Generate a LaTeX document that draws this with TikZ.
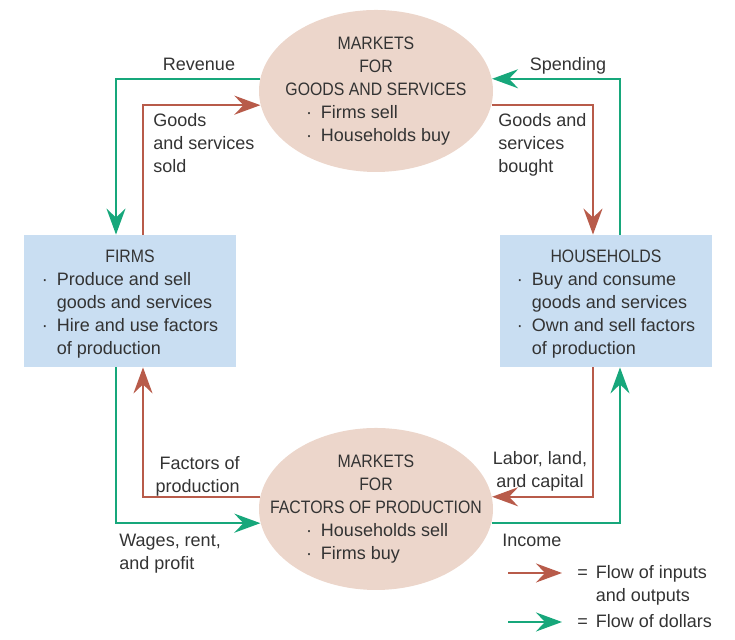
\documentclass[tikz,border=0pt]{standalone}
\usepackage{fontspec}
\setmainfont{Liberation Sans}
\newfontfamily\capsfont[FakeStretch=0.88]{Liberation Sans}
\usepackage{xcolor}
\usetikzlibrary{arrows.meta,shapes.geometric}
\definecolor{inred}{HTML}{B85B4A}
\definecolor{dolgreen}{HTML}{17A77B}
\definecolor{mktfill}{HTML}{ECD6CB}
\definecolor{boxfill}{HTML}{C9DEF2}
\definecolor{txt}{HTML}{333333}
\newcommand{\itm}{\makebox[7.5pt][l]{·}}
\tikzset{
  mkt/.style={ellipse,fill=mktfill,minimum width=117pt,minimum height=81pt,inner sep=0pt},
  sector/.style={rectangle,fill=boxfill,minimum width=106pt,minimum height=66pt,inner sep=0pt},
  lbl/.style={inner sep=0pt,align=left},
  realflow/.style={draw=inred,line width=1.25pt,-{Stealth[length=13pt,width=9.5pt,inset=4.5pt]}},
  moneyflow/.style={draw=dolgreen,line width=1.25pt,-{Stealth[length=13pt,width=9.5pt,inset=4.5pt]}}
}

\begin{document}
\begin{tikzpicture}[x=0.5pt,y=0.5pt,font=\fontsize{9}{11.5}\selectfont,text=txt]
\useasboundingbox (0,0) rectangle (735,640);
\node[mkt] (mgs) at (376,549) {};
\node[lbl,align=center] (mgs-t) at (mgs) {{\capsfont MARKETS}\\{\capsfont FOR}\\{\capsfont GOODS AND SERVICES}\\
  \makebox[70pt][l]{\itm Firms sell}\\\makebox[70pt][l]{\itm Households buy}};
\node[mkt] (mfp) at (376,131) {};
\node[lbl,align=center] (mfp-t) at (mfp) {{\capsfont MARKETS}\\{\capsfont FOR}\\{\capsfont FACTORS OF PRODUCTION}\\
  \makebox[70pt][l]{\itm Households sell}\\\makebox[70pt][l]{\itm Firms buy}};
\node[sector] (fig) at (130,339) {\raisebox{0pt}[\dimexpr\height+3pt][\depth]{\begin{tabular}{@{}p{7.5pt}@{}l@{}}
  \multicolumn{2}{c}{\capsfont FIRMS}\\ · & Produce and sell\\ & goods and services\\
  · & Hire and use factors\\ & of production\end{tabular}}};
\node[sector] (hh) at (606,339) {\raisebox{0pt}[\dimexpr\height+3pt][\depth]{\begin{tabular}{@{}p{7.5pt}@{}l@{}}
  \multicolumn{2}{c}{\capsfont HOUSEHOLDS}\\ · & Buy and consume\\ & goods and services\\
  · & Own and sell factors\\ & of production\end{tabular}}};

\draw[realflow] ([xshift=6.5pt]fig.north) |- (mgs.187);
\draw[moneyflow] (mgs.174) -| ([xshift=-7pt]fig.north);
\draw[moneyflow] ([xshift=7pt]hh.north) |- (mgs.6);
\draw[realflow] (mgs.-7) -| ([xshift=-6.5pt]hh.north);
\draw[realflow] (mfp.174) -| ([xshift=6.5pt]fig.south);
\draw[moneyflow] ([xshift=-7pt]fig.south) |- (mfp.187.4);
\draw[realflow] ([xshift=-6.5pt]hh.south) |- (mfp.6);
\draw[moneyflow] (mfp.-7.4) -| ([xshift=7pt]hh.south);

\node[lbl,anchor=base] (rev) at (199,569) {Revenue};
\node[lbl,anchor=base] (spd) at (568,569) {Spending};
\node[lbl,anchor=north west] (gss) at (153,527) {Goods\\and services\\sold};
\node[lbl,anchor=north west] (gsb) at (498,527) {Goods and\\services\\bought};
\node[lbl,anchor=north east,align=right] (fop) at (240,184) {Factors of\\production};
\node[lbl,anchor=north west] (wrp) at (119,106) {Wages, rent,\\and profit};
\node[lbl,anchor=north,align=center] (llc) at (540,189) {Labor, land,\\and capital};
\node[lbl,anchor=west] (inc) at (502,100) {Income};

\coordinate (ka) at (508,67);
\coordinate (kb) at (562,67);
\coordinate (kc) at (508,18);
\coordinate (kd) at (562,18);
\draw[realflow] (ka) -- (kb);
\draw[moneyflow] (kc) -- (kd);
\node[lbl,anchor=base west] (kt1) at (577,61) {\begin{tabular}[t]{@{}l@{\hspace{4pt}}l@{}}
  = & Flow of inputs\\ & and outputs\end{tabular}};
\node[lbl,anchor=base west] (kt2) at (577,12) {\begin{tabular}[t]{@{}l@{\hspace{4pt}}l@{}}
  = & Flow of dollars\end{tabular}};
\end{tikzpicture}
\end{document}
